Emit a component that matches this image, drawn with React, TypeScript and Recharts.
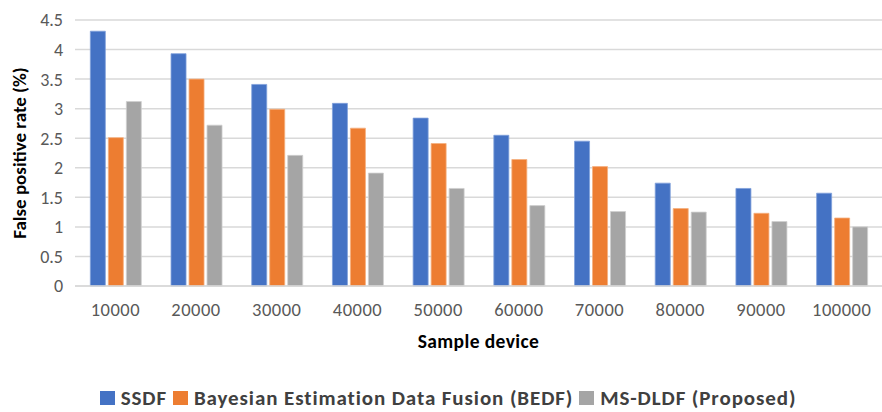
import { BarChart, Bar, XAxis, YAxis, CartesianGrid, Legend } from 'recharts'

const categories = ['10000', '20000', '30000', '40000', '50000', '60000', '70000', '80000', '90000', '100000']
const ssdf = [4.31, 3.93, 3.41, 3.09, 2.84, 2.55, 2.45, 1.74, 1.65, 1.57]
const bedf = [2.51, 3.5, 2.99, 2.67, 2.41, 2.14, 2.02, 1.31, 1.23, 1.15]
const msdldf = [3.12, 2.72, 2.21, 1.91, 1.65, 1.36, 1.26, 1.25, 1.09, 1.0]
const yTicks = [0, 0.5, 1, 1.5, 2, 2.5, 3, 3.5, 4, 4.5]

const series = [
  { key: 'ssdf', name: 'SSDF', color: '#4472C4', edge: '#7fa0da' },
  { key: 'bedf', name: 'Bayesian Estimation Data Fusion (BEDF)', color: '#ED7D31', edge: '#f5b07f' },
  { key: 'msdldf', name: 'MS-DLDF (Proposed)', color: '#A5A5A5', edge: '#cfcfcf' },
]

const data = categories.map((c, i) => ({
  name: c,
  ssdf: ssdf[i],
  bedf: bedf[i],
  msdldf: msdldf[i],
}))

const FONT = "Carlito, 'Liberation Sans', sans-serif"

// legend drawn by hand so order and spacing match the original
function ChartLegend() {
  return (
    <div
      style={{
        height: 50,
        display: 'flex',
        justifyContent: 'center',
        alignItems: 'flex-end',
        fontFamily: FONT,
        fontSize: 21,
        fontWeight: 700,
        letterSpacing: 0.9,
        color: '#404040',
        lineHeight: '22px',
        paddingLeft: 14,
      }}
    >
      {series.map((s, i) => (
        <div
          key={s.key}
          style={{ display: 'flex', alignItems: 'center', marginRight: i < series.length - 1 ? 6 : 0 }}
        >
          <span style={{ width: 15, height: 14, background: s.color, marginRight: 6, display: 'inline-block' }} />
          <span>{s.name}</span>
        </div>
      ))}
    </div>
  )
}

export default function App() {
  return (
    <div style={{ position: 'absolute', left: 0, top: 0, background: '#fff', fontFamily: FONT }}>
      <BarChart
        width={882}
        height={412}
        data={data}
        margin={{ top: 20, right: 0, left: 0, bottom: 3 }}
        barCategoryGap="19%"
        barGap={3}
      >
        <CartesianGrid vertical={false} stroke="#d9d9d9" strokeWidth={1.5} />
        <XAxis
          dataKey="name"
          height={73}
          tickLine={false}
          axisLine={{ stroke: '#d9d9d9', strokeWidth: 1.5 }}
          tick={{ fill: '#595959', fontSize: 18.5, fontFamily: FONT, letterSpacing: 0.5 }}
          tickMargin={11}
          label={{
            value: 'Sample device',
            position: 'insideBottom',
            offset: 11,
            style: { fill: '#000', fontSize: 19.5, fontWeight: 700, fontFamily: FONT, letterSpacing: 0.4 },
          }}
        />
        <YAxis
          width={75}
          domain={[0, 4.5]}
          ticks={yTicks}
          tickLine={false}
          axisLine={false}
          tick={{ fill: '#595959', fontSize: 18, fontFamily: FONT }}
          tickMargin={6}
          label={{
            value: 'False positive rate (%)',
            angle: -90,
            position: 'insideLeft',
            offset: 19,
            style: { textAnchor: 'middle', fill: '#000', fontSize: 19, fontWeight: 700, fontFamily: FONT },
          }}
        />
        <Legend verticalAlign="bottom" content={() => <ChartLegend />} />
        {series.map((s) => (
          <Bar
            key={s.key}
            dataKey={s.key}
            name={s.name}
            fill={s.color}
            stroke={s.edge}
            strokeWidth={0.8}
            isAnimationActive={false}
          />
        ))}
      </BarChart>
    </div>
  )
}
